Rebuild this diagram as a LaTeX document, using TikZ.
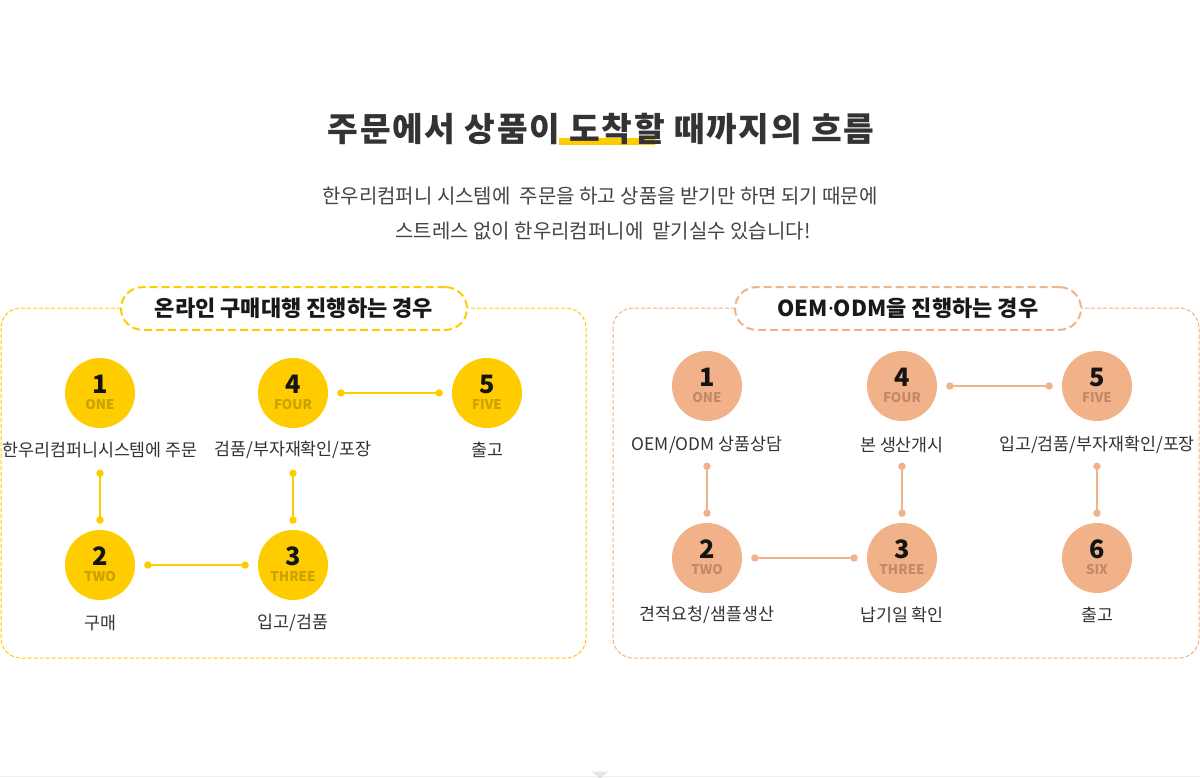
\documentclass[tikz,border=0pt]{standalone}
\usepackage{fontspec}
\setmainfont{Noto Sans CJK KR}
\newfontfamily\latinf{Noto Sans}
\usetikzlibrary{arrows.meta,calc}
\definecolor{yel}{HTML}{FFCC00}
\definecolor{yeltxt}{HTML}{C9A100}
\definecolor{pch}{HTML}{F1B189}
\definecolor{pchtxt}{HTML}{C48866}
\definecolor{ttl}{HTML}{333333}
\definecolor{subc}{HTML}{444444}
\definecolor{linegray}{HTML}{EEEEEE}
\definecolor{trigray}{HTML}{E6E6E6}
\tikzset{
 panel/.style={draw=#1, line width=0.75pt, dash pattern=on 3pt off 1.5pt, rounded corners=15pt},
 pill/.style={draw=#1, line width=1.5pt, dash pattern=on 6pt off 3pt, rounded corners=16pt, fill=white, minimum width=259.5pt, minimum height=32pt, inner sep=0pt, font=\fontsize{16.5}{18}\selectfont\bfseries, text=black!90},
 stepcirc/.style={circle, fill=#1, minimum size=52.5pt, inner sep=0pt},
 numtxt/.style={font=\fontsize{19}{20}\selectfont\bfseries, text=black!92, inner sep=0pt},
 engtxt/.style={font=\fontsize{10}{11}\selectfont\bfseries, text=#1, inner sep=0pt},
 lbl/.style={font=\fontsize{13}{15}\selectfont, text=ttl, inner sep=0pt},
 conn/.style={draw=#1, line width=0.9pt, {Circle[length=5.5pt]}-{Circle[length=5.5pt]}, shorten <=6.75pt, shorten >=6.75pt},
 vconn/.style={draw=#1, line width=0.9pt, {Circle[length=5.5pt]}-{Circle[length=5.5pt]}, shorten <=31pt, shorten >=4.5pt},
}
\begin{document}
\begin{tikzpicture}[x=0.75pt,y=-0.75pt]
\useasboundingbox[fill=white] (0,0) rectangle (1200,778);

% title
\node[font=\fontsize{25}{28}\selectfont\bfseries\addfontfeature{LetterSpace=5}, text=ttl, inner sep=0pt] (title) at (601,129)
 {주문에서 상품이\rlap{\hspace{-1pt}\textcolor{yel}{\rule[-3pt]{72pt}{5.25pt}}} 도착할 때까지의 흐름};
\node[font=\fontsize{15}{17}\selectfont, text=subc, inner sep=0pt] (sub1) at (600,196)
 {한우리컴퍼니 시스템에\ \ 주문을 하고 상품을 받기만 하면 되기 때문에};
\node[font=\fontsize{15}{17}\selectfont, text=subc, inner sep=0pt] (sub2) at (603,231)
 {스트레스 없이 한우리컴퍼니에\ \ 맡기실수 있습니다!};

% panels
\draw[panel=yel] (1,308) rectangle (586,658);
\draw[panel=pch] (613,308) rectangle (1199,658);
\node[pill=yel] (pl) at (294,308.5) {온라인 구매대행 진행하는 경우};
\node[pill=pch] (pr) at (908,308.5) {OEM{\latinf\bfseries ·}ODM을 진행하는 경우};

% left circles
\foreach \nm/\x/\y/\d/\e in {L1/100/393/1/ONE, L4/293/393/4/FOUR, L5/487/393/5/FIVE, L2/100/565/2/TWO, L3/293/565/3/THREE}{
  \node[stepcirc=yel] (\nm) at (\x,\y) {};
  \node[numtxt] (\nm n) at ($(\nm)+(0,-9)$) {\d};
  \node[engtxt=yeltxt] (\nm e) at ($(\nm)+(0,12)$) {\e};
}
% right circles
\foreach \nm/\x/\y/\d/\e in {R1/707/386/1/ONE, R4/902/386/4/FOUR, R5/1097/386/5/FIVE, R2/707/558/2/TWO, R3/902/558/3/THREE, R6/1097/558/6/SIX}{
  \node[stepcirc=pch] (\nm) at (\x,\y) {};
  \node[numtxt] (\nm n) at ($(\nm)+(0,-9)$) {\d};
  \node[engtxt=pchtxt] (\nm e) at ($(\nm)+(0,12)$) {\e};
}

% left labels
\node[lbl] (L1t) at (100,450) {한우리컴퍼니시스템에 주문};
\node[lbl] (L4t) at (293,450) {검품/부자재확인/포장};
\node[lbl] (L5t) at (487,450) {출고};
\node[lbl] (L2t) at (100,623) {구매};
\node[lbl] (L3t) at (293,623) {입고/검품};
% right labels
\node[lbl] (R1t) at (707,445) {OEM/ODM 상품상담};
\node[lbl] (R4t) at (902,445) {본 생산개시};
\node[lbl] (R5t) at (1097,445) {입고/검품/부자재확인/포장};
\node[lbl] (R2t) at (707,615) {견적요청/샘플생산};
\node[lbl] (R3t) at (902,615) {납기일 확인};
\node[lbl] (R6t) at (1097,615) {출고};

% connectors
\draw[conn=yel] (L4) -- (L5);
\draw[conn=yel] (L2) -- (L3);
\draw[vconn=yel] (L1) -- (L2);
\draw[vconn=yel] (L4) -- (L3);
\draw[conn=pch] (R4) -- (R5);
\draw[conn=pch] (R2) -- (R3);
\draw[vconn=pch] (R1) -- (R2);
\draw[vconn=pch] (R4) -- (R3);
\draw[vconn=pch] (R5) -- (R6);

% bottom line
\coordinate (bl) at (0,776);
\coordinate (br) at (1200,776);
\draw[linegray, line width=0.75pt] (bl) -- (br);
\fill[trigray] (592,771.5) -- (608,771.5) -- (600,779) -- cycle;
\end{tikzpicture}
\end{document}
